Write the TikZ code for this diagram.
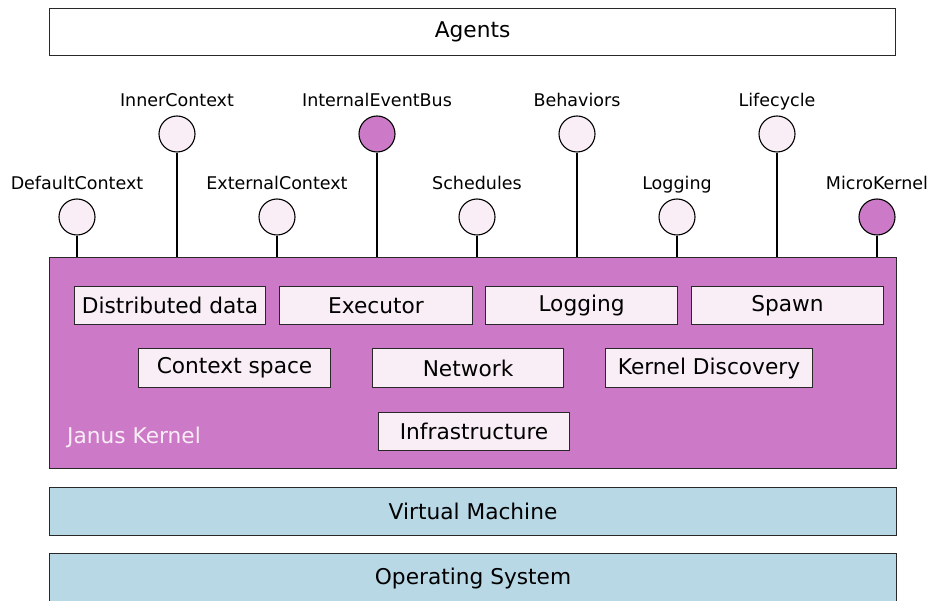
\documentclass[tikz,border=0pt]{standalone}
\usepackage{fontspec}
\setmainfont{DejaVu Sans}
\definecolor{kernfill}{RGB}{204,121,199}
\definecolor{pinkfill}{RGB}{249,238,245}
\definecolor{bluefill}{RGB}{184,216,230}
\definecolor{edgecol}{RGB}{40,40,40}
\tikzset{
  bigtext/.style={font=\fontsize{21.7}{26}\selectfont},
  labtext/.style={font=\fontsize{17.5}{21}\selectfont, inner sep=0pt, anchor=base},
  layerbox/.style={draw=edgecol, line width=1.1pt, inner sep=0pt, anchor=north west, bigtext},
  modbox/.style={layerbox, fill=pinkfill},
  port/.style={circle, draw=black, line width=1.1pt, minimum size=36pt, inner sep=0pt},
  lightport/.style={port, fill=pinkfill},
  darkport/.style={port, fill=kernfill},
  stem/.style={line width=2.6pt, black},
}
\begin{document}
\begin{tikzpicture}[x=1pt,y=-1pt]
\clip (0,0) rectangle (927,601);
\fill[white] (0,0) rectangle (927,601);

% layers
\node[layerbox, minimum width=846pt, minimum height=47pt] (agents) at (49,8) {Agents};
\node[layerbox, fill=kernfill, minimum width=847pt, minimum height=211pt] (kernel) at (49,257) {};
\node[layerbox, fill=bluefill, minimum width=847pt, minimum height=48pt] (vm) at (49,487) {Virtual Machine};
\node[layerbox, fill=bluefill, minimum width=847pt, minimum height=49pt] (os) at (49,553) {Operating System};

\node[bigtext, text=pinkfill, anchor=west, inner sep=0pt] (jk) at (67,437) {Janus Kernel};

% modules
\node[modbox, minimum width=191pt, minimum height=38pt] (dist) at (74,286) {Distributed data};
\node[modbox, minimum width=193pt, minimum height=38pt] (exec) at (279,286) {Executor};
\node[modbox, minimum width=192pt, minimum height=38pt] (logm) at (485,286) {Logging};
\node[modbox, minimum width=192pt, minimum height=38pt] (spawn) at (691,286) {Spawn};
\node[modbox, minimum width=192pt, minimum height=39pt] (ctx) at (138,348) {Context space};
\node[modbox, minimum width=191pt, minimum height=39pt] (net) at (372,348) {Network};
\node[modbox, minimum width=207pt, minimum height=39pt] (kd) at (605,348) {Kernel Discovery};
\node[modbox, minimum width=191pt, minimum height=38pt] (infra) at (378,412) {Infrastructure};

% ports
\node[lightport] (p1) at (77,217) {};
\node[lightport] (p2) at (177,134) {};
\node[lightport] (p3) at (277,217) {};
\node[darkport]  (p4) at (377,134) {};
\node[lightport] (p5) at (477,217) {};
\node[lightport] (p6) at (577,134) {};
\node[lightport] (p7) at (677,217) {};
\node[lightport] (p8) at (777,134) {};
\node[darkport]  (p9) at (877,217) {};

\foreach \p in {p1,p2,p3,p4,p5,p6,p7,p8,p9}{
  \draw[stem] (\p.south) -- (\p |- kernel.north);
}

\node[labtext] (l1) at (77,190) {DefaultContext};
\node[labtext] (l2) at (177,107) {InnerContext};
\node[labtext] (l3) at (277,190) {ExternalContext};
\node[labtext] (l4) at (377,107) {InternalEventBus};
\node[labtext] (l5) at (477,190) {Schedules};
\node[labtext] (l6) at (577,107) {Behaviors};
\node[labtext] (l7) at (677,190) {Logging};
\node[labtext] (l8) at (777,107) {Lifecycle};
\node[labtext] (l9) at (877,190) {MicroKernel};
\end{tikzpicture}
\end{document}
